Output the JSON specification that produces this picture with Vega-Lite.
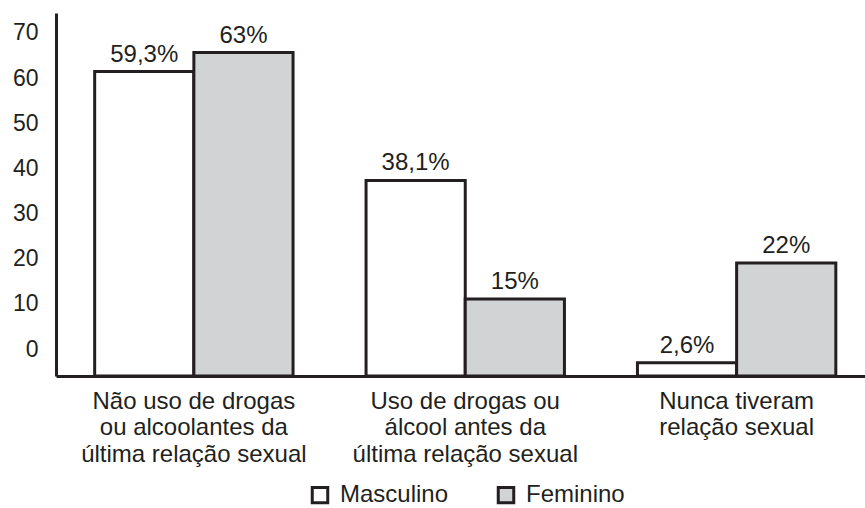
{
  "$schema": "https://vega.github.io/schema/vega-lite/v6.json",
  "autosize": {"type": "none"},
  "padding": {"left": 56, "top": 13, "right": 0, "bottom": 132},
  "width": 809,
  "height": 363,
  "background": "white",
  "config": {
    "view": {"stroke": null},
    "font": "Liberation Sans",
    "text": {"font": "Liberation Sans"}
  },
  "data": {
    "values": [
      {"categoria": "Não uso de drogas|ou alcoolantes da|última relação sexual", "sexo": "Masculino", "valor": 59.3, "rotulo": "59,3%"},
      {"categoria": "Não uso de drogas|ou alcoolantes da|última relação sexual", "sexo": "Feminino", "valor": 63, "rotulo": "63%"},
      {"categoria": "Uso de drogas ou|álcool antes da|última relação sexual", "sexo": "Masculino", "valor": 38.1, "rotulo": "38,1%"},
      {"categoria": "Uso de drogas ou|álcool antes da|última relação sexual", "sexo": "Feminino", "valor": 15, "rotulo": "15%"},
      {"categoria": "Nunca tiveram|relação sexual", "sexo": "Masculino", "valor": 2.6, "rotulo": "2,6%"},
      {"categoria": "Nunca tiveram|relação sexual", "sexo": "Feminino", "valor": 22, "rotulo": "22%"}
    ]
  },
  "encoding": {
    "x": {
      "field": "categoria",
      "type": "nominal",
      "sort": ["Não uso de drogas|ou alcoolantes da|última relação sexual", "Uso de drogas ou|álcool antes da|última relação sexual", "Nunca tiveram|relação sexual"],
      "scale": {"paddingInner": 0.269, "paddingOuter": 0.125, "align": 0.57},
      "axis": {
        "title": null,
        "labelAngle": 0,
        "labelExpr": "split(datum.label, '|')",
        "labelFontSize": 24,
        "labelLineHeight": 26.5,
        "labelColor": "#231f20",
        "labelPadding": 13,
        "labelBaseline": "top",
        "labelLimit": 400,
        "labelOverlap": false,
        "ticks": false,
        "domainColor": "#231f20",
        "domainWidth": 3
      }
    },
    "xOffset": {
      "field": "sexo",
      "type": "nominal",
      "sort": ["Masculino", "Feminino"],
      "scale": {"paddingInner": 0, "paddingOuter": 0}
    },
    "y": {
      "field": "valor",
      "type": "quantitative",
      "scale": {"domain": [0, 70.7], "nice": false},
      "axis": {
        "title": null,
        "values": [0, 10, 20, 30, 40, 50, 60, 70],
        "grid": false,
        "ticks": false,
        "labelFontSize": 23,
        "labelColor": "#231f20",
        "labelPadding": 18,
        "labelOffset": {"expr": "-27 + 0.62 * datum.value"},
        "domainColor": "#231f20",
        "domainWidth": 3
      }
    }
  },
  "layer": [
    {
      "mark": {"type": "bar", "stroke": "#231f20", "strokeWidth": 3},
      "encoding": {
        "fill": {
          "field": "sexo",
          "type": "nominal",
          "sort": ["Masculino", "Feminino"],
          "scale": {"domain": ["Masculino", "Feminino"], "range": ["#ffffff", "#d1d3d4"]},
          "legend": {
            "title": null,
            "orient": "none",
            "legendX": 252,
            "legendY": 470,
            "direction": "horizontal",
            "symbolType": "square",
            "symbolSize": 240,
            "symbolStrokeColor": "#231f20",
            "symbolStrokeWidth": 3,
            "labelFontSize": 24,
            "labelColor": "#231f20",
            "labelOffset": 8,
            "columnPadding": 43
          }
        }
      }
    },
    {
      "mark": {"type": "text", "baseline": "alphabetic", "dy": -10, "fontSize": 24, "color": "#231f20"},
      "encoding": {
        "text": {"field": "rotulo"}
      }
    }
  ]
}
